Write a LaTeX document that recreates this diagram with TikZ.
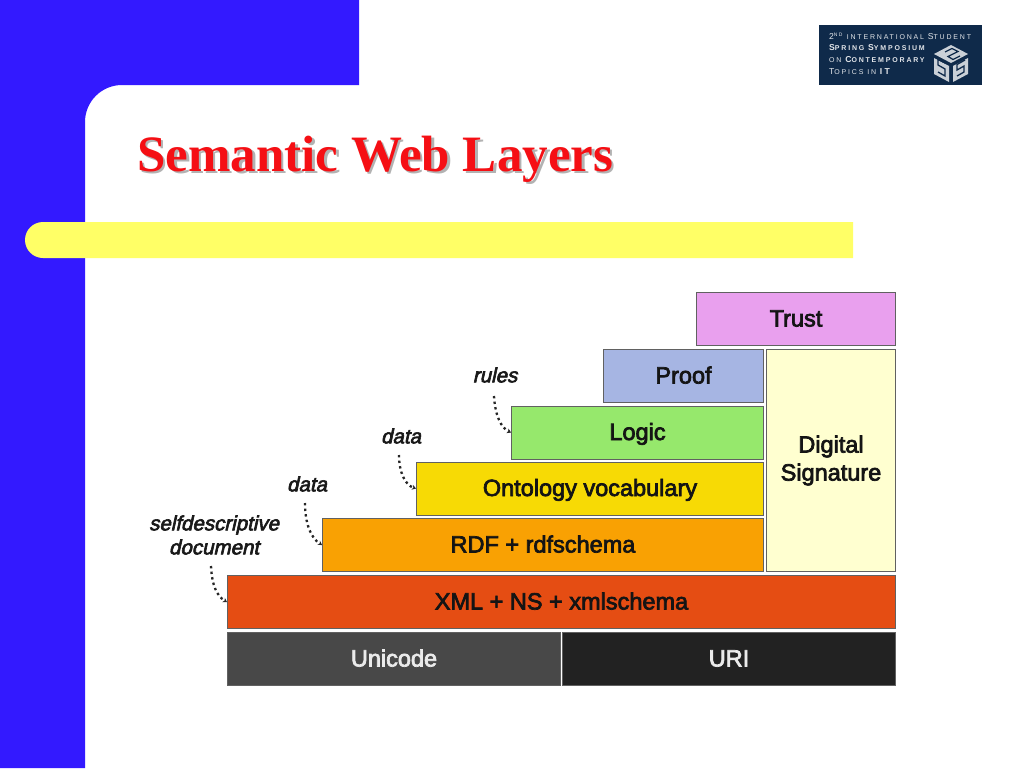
\documentclass[tikz,border=0pt]{standalone}
\usepackage{fontspec}
\setmainfont{Liberation Sans}
\newfontfamily\titlefont{Liberation Serif}
\newfontfamily\logofont{Liberation Sans}[LetterSpace=26]
\newfontfamily\layerfont{Liberation Sans}[FakeBold=3]
\newfontfamily\notefont{Liberation Sans}[FakeBold=3,FakeSlant=0.22]
\usetikzlibrary{arrows.meta}
\definecolor{sideblue}{HTML}{3319FF}
\definecolor{baryellow}{HTML}{FFFF66}
\definecolor{titlered}{HTML}{F50F14}
\definecolor{ctrust}{HTML}{E9A0EE}
\definecolor{cproof}{HTML}{A6B5E3}
\definecolor{clogic}{HTML}{96E86C}
\definecolor{conto}{HTML}{F7DA05}
\definecolor{crdf}{HTML}{F9A103}
\definecolor{cxml}{HTML}{E54D13}
\definecolor{cuni}{HTML}{484848}
\definecolor{curi}{HTML}{222222}
\definecolor{csig}{HTML}{FFFFD0}
\definecolor{logobg}{HTML}{0F2A4A}
\newcommand{\lgS}[1]{{\fontsize{8.6}{8}\selectfont #1}}
\newcommand{\shadowed}[1]{\rlap{\kern2.5pt\raisebox{-2.5pt}{\textcolor{black!30}{#1}}}\textcolor{titlered}{#1}}
\tikzset{
 layerbase/.style={draw=black!62,line width=1pt,inner sep=0pt,anchor=north west,font=\layerfont\fontsize{23.5}{28}\selectfont,text=black!92},
 layer/.style={layerbase,minimum height=53pt,text height=20pt,text depth=5pt},
 tallayer/.style={layerbase,minimum height=222pt},
 note/.style={font=\notefont\fontsize{20.5}{24}\selectfont,align=center,text=black!90,inner sep=0pt},
 link/.style={line width=2.3pt,dash pattern=on 2.4pt off 3.2pt,black!85,-{Stealth[length=4pt,width=5pt]}},
 logotext/.style={anchor=west,inner sep=0pt,text=white!88!logobg,font=\logofont\fontsize{7}{7}\selectfont},
 cubeface/.style={fill=white!78!logobg},
 cubeline/.style={draw=logobg,line width=1.3pt}
}
\begin{document}
\begin{tikzpicture}[x=1pt,y=-1pt]
\useasboundingbox (0,0) rectangle (1024,768);
\fill[white] (0,0) rectangle (1024,768);
% side panel
\fill[sideblue] (0,0) -- (359,0) -- (359,85) -- (122,85) arc[start angle=270,end angle=180,radius=37] -- (85,768) -- (0,768) -- cycle;
% bar
\fill[baryellow] (43,222) -- (853,222) -- (853,258) -- (43,258) arc[start angle=90,end angle=270,radius=18] -- cycle;
% title
\node[anchor=west,inner sep=0pt,font=\titlefont\bfseries\fontsize{51}{56}\selectfont] (title) at (137,160.5) {\shadowed{Semantic Web Layers}};
% logo
\fill[logobg] (819,25) rectangle (982,85);
\node[logotext] (l1) at (829,36) {\lgS{2}\textsuperscript{\tiny ND} INTERNATIONAL \lgS{S}TUDENT};
\node[logotext] (l2) at (829,48) {\bfseries\lgS{S}PRING \lgS{S}YMPOSIUM};
\node[logotext] (l3) at (829,60) {ON \bfseries\lgS{C}ONTEMPORARY};
\node[logotext] (l4) at (829,72) {\lgS{T}OPICS IN \bfseries\lgS{IT}};
% logo cube
\fill[cubeface] (951,45) -- (968,54) -- (951,63) -- (934,54) -- cycle;
\fill[cubeface] (934,58) -- (949,66) -- (949,82) -- (934,74) -- cycle;
\fill[cubeface] (953,66) -- (968,58) -- (968,74) -- (953,82) -- cycle;
\draw[cubeline] (945,52) -- (952,48.5) -- (958,51.5) -- (948,56.5) -- (953,59.5) -- (960,56);
\draw[cubeline] (945,63) -- (938,59.5) -- (938,65) -- (945,69) -- (945,76) -- (938,72);
\draw[cubeline] (965,60) -- (957,64.5) -- (957,70) -- (964,66) -- (964,72) -- (957,76);
% layers
\node[layer,fill=ctrust,minimum width=199pt] (trust) at (696,292) {Trust};
\node[layer,fill=cproof,minimum width=160pt] (proof) at (603,349) {Proof};
\node[layer,fill=clogic,minimum width=252pt] (logic) at (511,405.5) {Logic};
\node[layer,fill=conto,minimum width=347pt] (onto) at (416,461.5) {Ontology vocabulary};
\node[layer,fill=crdf,minimum width=441pt] (rdf) at (322,518) {RDF + rdfschema};
\node[layer,fill=cxml,minimum width=668pt] (xml) at (227,575) {XML + NS + xmlschema};
\node[layer,fill=cuni,minimum width=333pt,text=white!92!black] (uni) at (227,632) {Unicode};
\node[layer,fill=curi,minimum width=333pt,text=white!92!black] (uri) at (562,632) {URI};
\node[tallayer,fill=csig,minimum width=129pt,align=center] (sig) at (766,349) {Digital\\Signature};
% notes
\node[note] (nrules) at (495,375) {rules};
\node[note] (ndata1) at (401,436) {data};
\node[note] (ndata2) at (307,484) {data};
\node[note] (nself) at (214,535) {selfdescriptive\\document};
\coordinate (s1) at (494,396);
\coordinate (s2) at (399,455);
\coordinate (s3) at (305,503);
\coordinate (s4) at (211,566);
\draw[link] (s1) .. controls (495,415) and (501,428) .. (logic.west);
\draw[link] (s2) .. controls (399,472) and (405,485) .. (onto.west);
\draw[link] (s3) .. controls (305,524) and (311,538) .. (rdf.west);
\draw[link] (s4) .. controls (212,586) and (217,596) .. (xml.west);
\end{tikzpicture}
\end{document}
